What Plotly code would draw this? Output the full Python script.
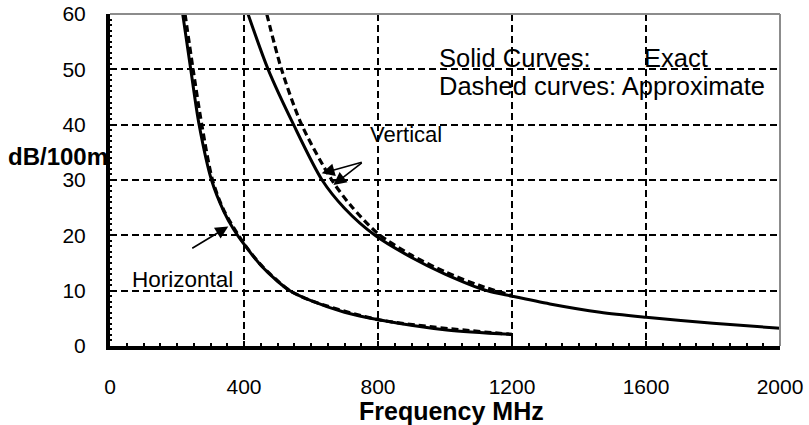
import plotly.graph_objects as go

# Horizontal polarisation - exact (solid)
freq_h_exact = [217, 241, 266, 303, 340, 368, 400, 450, 500, 537, 600, 700, 806, 1005, 1200]
att_h_exact = [60, 50, 40, 30, 24.3, 21.2, 18.4, 14.6, 11.7, 10.0, 8.2, 6.1, 4.7, 2.9, 2.1]

# Horizontal exact: closing drop to the axis at 1200 MHz
freq_h_drop = [1200, 1200]
att_h_drop = [2.1, 0]

# Horizontal polarisation - approximate (dashed)
freq_h_approx = [224, 248, 274, 306, 340, 400, 450, 500, 537, 600, 806, 1200]
att_h_approx = [60, 50, 40, 30, 24.5, 18.5, 14.7, 11.8, 10.0, 8.2, 4.7, 2.1]

# Vertical polarisation - exact (solid)
freq_v_exact = [412, 472, 548, 633, 700, 791, 900, 1000, 1125, 1200, 1313, 1463, 1600, 1800, 2000]
att_v_exact = [60, 50, 40, 30, 24.9, 20, 16.0, 13.0, 10, 9.0, 7.6, 6.1, 5.2, 4.1, 3.2]

# Vertical polarisation - approximate (dashed)
freq_v_approx = [468, 512, 572, 662, 720, 800, 900, 1000, 1100, 1200]
att_v_approx = [60, 50, 40, 30, 25.3, 20.3, 16.4, 13.4, 11.0, 9.1]

x_ticks = [0, 400, 800, 1200, 1600, 2000]
y_ticks = [0, 10, 20, 30, 40, 50, 60]

FONT = "Liberation Sans, Arial, sans-serif"

fig = go.Figure()
dash_line = dict(color="black", width=3.2, dash="7px,4px", shape="spline", smoothing=0.8)
solid_line = dict(color="black", width=3, shape="spline", smoothing=0.8)
fig.add_trace(go.Scatter(x=freq_h_approx, y=att_h_approx, mode="lines", line=dash_line, hoverinfo="skip"))
fig.add_trace(go.Scatter(x=freq_v_approx, y=att_v_approx, mode="lines", line=dash_line, hoverinfo="skip"))
fig.add_trace(go.Scatter(x=freq_h_exact, y=att_h_exact, mode="lines", line=solid_line, hoverinfo="skip"))
fig.add_trace(go.Scatter(x=freq_h_drop, y=att_h_drop, mode="lines",
                         line=dict(color="black", width=2), hoverinfo="skip"))
fig.add_trace(go.Scatter(x=freq_v_exact, y=att_v_exact, mode="lines", line=solid_line, hoverinfo="skip"))

grid = dict(showgrid=True, gridcolor="black", gridwidth=1.5, griddash="7px,4px")

fig.update_xaxes(range=[0, 2000], tickvals=x_ticks, ticktext=[str(v) for v in x_ticks],
                 showline=True, linecolor="black", linewidth=4, automargin=False,
                 ticks="inside", ticklen=5, tickwidth=2, tickcolor="black",
                 minor=dict(dtick=50, ticks="inside", ticklen=3, tickwidth=2, tickcolor="black", showgrid=False),
                 tickfont=dict(family=FONT, size=21, color="black"),
                 ticklabelstandoff=19, zeroline=False, **grid)
fig.update_yaxes(range=[0, 60], tickvals=y_ticks, ticktext=[str(v) for v in y_ticks],
                 showline=True, linecolor="black", linewidth=4, automargin=False,
                 ticks="inside", ticklen=5, tickwidth=2, tickcolor="black",
                 minor=dict(dtick=1, ticks="inside", ticklen=2, tickwidth=1.5, tickcolor="black", showgrid=False),
                 tickfont=dict(family=FONT, size=21, color="black"),
                 ticklabelstandoff=16, zeroline=False, **grid)

shapes = [
    dict(type="line", xref="paper", yref="paper", x0=0, x1=1, y0=1, y1=1,
         line=dict(color="#8c8c8c", width=2)),
    dict(type="line", xref="paper", yref="paper", x0=1, x1=1, y0=0, y1=1,
         line=dict(color="#8c8c8c", width=2)),
]

annotations = [
    dict(text="<b>Frequency MHz</b>", xref="x", yref="paper", x=1018, y=-0.196, showarrow=False,
         font=dict(family=FONT, size=25, color="black"), xanchor="center", yanchor="middle"),
    dict(text="<b>dB/100m</b>", xref="paper", yref="y", x=-0.0, y=34.2, showarrow=False,
         font=dict(family=FONT, size=24, color="black"), xanchor="right", yanchor="middle"),
    dict(text="Solid Curves:", xref="x", yref="y", x=976, y=52.0, showarrow=False,
         font=dict(family=FONT, size=25.5, color="black"), xanchor="left", yanchor="middle"),
    dict(text="Exact", xref="x", yref="y", x=1588, y=52.0, showarrow=False,
         font=dict(family=FONT, size=25.5, color="black"), xanchor="left", yanchor="middle"),
    dict(text="Dashed curves: Approximate", xref="x", yref="y", x=976, y=47.0, showarrow=False,
         font=dict(family=FONT, size=25.5, color="black"), xanchor="left", yanchor="middle"),
    dict(text="Horizontal", xref="x", yref="y", x=215, y=12.1, showarrow=False,
         font=dict(family=FONT, size=22.5, color="black"), xanchor="center", yanchor="middle"),
    dict(text="Vertical", xref="x", yref="y", x=884, y=38.2, showarrow=False,
         font=dict(family=FONT, size=22, color="black"), xanchor="center", yanchor="middle"),
    # arrows
    dict(text="", x=353, y=21.6, ax=241, ay=17.5, xref="x", yref="y", axref="x", ayref="y",
         showarrow=True, arrowhead=2, arrowsize=1.6, arrowwidth=1.6, arrowcolor="black"),
    dict(text="", x=632, y=31.2, ax=756, ay=33.3, xref="x", yref="y", axref="x", ayref="y",
         showarrow=True, arrowhead=2, arrowsize=1.6, arrowwidth=1.6, arrowcolor="black"),
    dict(text="", x=667, y=29.1, ax=756, ay=33.3, xref="x", yref="y", axref="x", ayref="y",
         showarrow=True, arrowhead=2, arrowsize=1.6, arrowwidth=1.6, arrowcolor="black"),
]

fig.update_layout(
    width=809, height=425,
    margin=dict(l=110, r=29, t=14, b=79, autoexpand=False),
    paper_bgcolor="white", plot_bgcolor="white",
    showlegend=False,
    shapes=shapes, annotations=annotations,
    font=dict(family=FONT, color="black"),
)

fig.write_html("out.html")
